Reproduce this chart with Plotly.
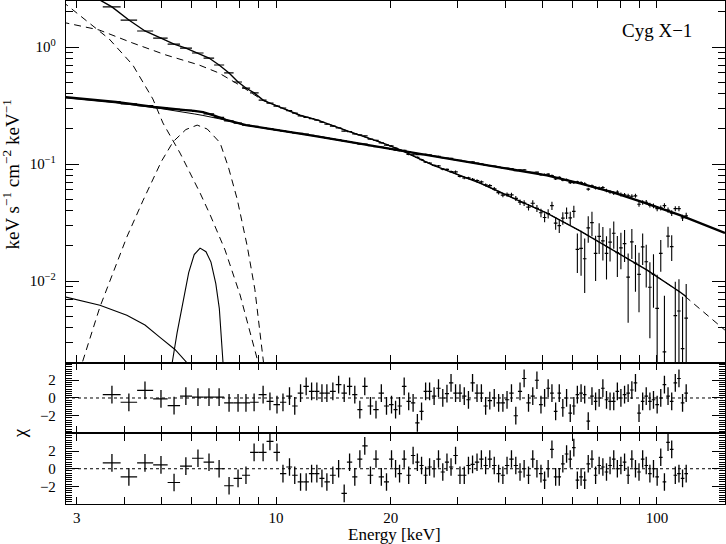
import plotly.graph_objects as go

# energy bins [keV], same binning for both observations
energy = [3.71, 4.11, 4.53, 4.99, 5.40, 5.80, 6.24, 6.67, 7.09, 7.53, 7.95, 8.34, 8.76, 9.25, 9.64, 10.06, 10.43,
          10.85, 11.2, 11.6, 12.0, 12.4, 12.8, 13.2, 13.6, 14.1, 14.6, 15.1, 15.6, 16.1, 16.6, 17.1, 17.7, 18.3, 18.9, 19.5,
          20.1, 20.6, 21.1, 21.7, 22.3, 22.9, 23.5, 24.1, 24.7, 25.3, 26.0, 26.7, 27.4, 28.1, 28.8, 29.6, 30.4, 31.2,
          32.0, 32.8, 33.7, 34.6, 35.5, 36.4, 37.4, 38.4, 39.4, 40.4, 41.5, 42.6, 43.7, 44.8, 46.0, 47.2, 48.4,
          49.6, 50.7, 51.8, 53.0, 54.2, 55.4, 56.6, 57.9, 59.2, 60.5, 61.8, 63.2, 64.6, 66.0, 67.5, 69.0, 70.5, 72.1,
          73.7, 75.3, 77.0, 78.7, 80.4, 82.2, 84.0, 85.9, 87.8, 89.7, 91.7, 93.7, 95.8, 97.9, 100.1, 102.3, 104.6,
          106.9, 109.3, 111.7, 114.2, 116.7, 119.3]

# hard state spectrum
flux_hard = [0.3421, 0.3269, 0.3157, 0.3027, 0.2932, 0.2880, 0.2811, 0.2687, 0.2507, 0.2333, 0.2234, 0.2148, 0.2098,
             0.2051, 0.2003, 0.1953, 0.1917,
             0.1887, 0.1845, 0.1825, 0.1797, 0.1760, 0.1726, 0.1697, 0.1666, 0.1636, 0.1614, 0.1577, 0.1557, 0.1520,
             0.1479, 0.1479, 0.1434, 0.1405, 0.1396, 0.1360,
             0.1336, 0.1313, 0.1300, 0.1311, 0.1269, 0.1250, 0.1205, 0.1205, 0.1212, 0.1196, 0.1170, 0.1163, 0.1132,
             0.1122, 0.1118, 0.1090, 0.1073, 0.1054, 0.1036, 0.1041, 0.1016, 0.1001, 0.0975, 0.0968, 0.0958, 0.0941,
             0.0928, 0.0921, 0.0915, 0.0879, 0.0892, 0.0892, 0.0854, 0.0848, 0.0851,
             0.0811, 0.0812, 0.0818, 0.0795, 0.0747, 0.0768, 0.0728, 0.0733, 0.0692, 0.0693, 0.0703, 0.0694, 0.0678,
             0.0609, 0.0649, 0.0625, 0.0621, 0.0630, 0.0593, 0.0577, 0.0565, 0.0576, 0.0549, 0.0544, 0.0535, 0.0530,
             0.0535, 0.0453, 0.0469, 0.0471, 0.0446, 0.0439, 0.0416, 0.0421, 0.0441, 0.0404, 0.0381, 0.0415, 0.0416,
             0.0347, 0.0361]
err_hard = [0.0017, 0.0016, 0.0016, 0.0015, 0.0015, 0.0014, 0.0014, 0.0013, 0.0013, 0.0012, 0.0011, 0.0011, 0.0011,
            0.0010, 0.0010, 0.0010, 0.0010,
            0.0011, 0.0011, 0.0011, 0.0011, 0.0011, 0.0010, 0.0010, 0.0010, 0.0010, 0.0010, 0.0009, 0.0009, 0.0009,
            0.0009, 0.0009, 0.0009, 0.0008, 0.0008, 0.0008,
            0.0013, 0.0013, 0.0013, 0.0013, 0.0013, 0.0013, 0.0012, 0.0012, 0.0012, 0.0012, 0.0012, 0.0012, 0.0011,
            0.0011, 0.0011, 0.0011, 0.0011, 0.0011, 0.0010, 0.0010, 0.0010, 0.0010, 0.0010, 0.0010, 0.0010, 0.0009,
            0.0009, 0.0009, 0.0009, 0.0009, 0.0009, 0.0009, 0.0009, 0.0008, 0.0008,
            0.0016, 0.0016, 0.0017, 0.0017, 0.0017, 0.0017, 0.0017, 0.0017, 0.0017, 0.0018, 0.0018, 0.0018, 0.0019,
            0.0019, 0.0019, 0.0020, 0.0020, 0.0020, 0.0020, 0.0020, 0.0021, 0.0021, 0.0021, 0.0021, 0.0021, 0.0021,
            0.0021, 0.0021, 0.0021, 0.0021, 0.0021, 0.0021, 0.0021, 0.0021, 0.0021, 0.0021, 0.0021, 0.0021, 0.0021,
            0.0022, 0.0022]
chi_hard = [0.37, -0.48, 0.85, -0.1, -0.85, 0.2, 0.1, 0.1, 0.1, -0.55, -0.55, -0.55, -0.48, 0.37, -0.37, -0.74, -0.48,
            0.2, -0.9, 0.55, 1.3, 0.74, 0.74, 0.55, 0.55, 0.74, 1.5, 0.55, 1.3, 0.37, -1.3, 1.3, -0.9, -1.3, 0.55, -0.9,
            -0.74, -1.3, -0.9, 1.3, -0.37, -0.55, -2.8, -1.5, 0.74, 0.74, 0.2, 1.1, 0.0, 0.5, 1.7, 0.55, 0.55, 0.2,
            -0.2, 1.7, 0.55, 0.55, -0.9, -0.3, 0.0, -0.55, -0.55, -0.2, 0.55, -2.0, 0.74, 2.2, -0.55, 0.2, 2.0,
            -0.74, 0.0, 1.1, 0.55, -1.5, 0.55, -1.1, 0.0, -1.7, -0.9, 0.37, 0.55, 0.37, -2.6, 0.2, -0.37, 0.0, 1.1,
            -0.2, -0.37, -0.37, 0.74, 0.0, 0.37, 0.55, 0.9, 1.7, -1.7, -0.37, 0.2, -0.37, -0.2, -0.74, 0.0, 1.5, 0.2,
            -0.37, 1.7, 2.2, -0.55, 0.55]

# soft state spectrum
flux_soft = [2.20, 1.70, 1.37, 1.19, 1.06, 0.980, 0.889, 0.805, 0.702, 0.600, 0.502, 0.446, 0.405, 0.352, 0.332,
             0.313, 0.301,
             0.2860, 0.2723, 0.2582, 0.2502, 0.2442, 0.2370, 0.2274, 0.2187, 0.2108, 0.2035, 0.1913, 0.1892, 0.1806,
             0.1774, 0.1739, 0.1632, 0.1595, 0.1518, 0.1452,
             0.1430, 0.1365, 0.1312, 0.1289, 0.1207, 0.1199, 0.1140, 0.1092, 0.1036, 0.1016, 0.0973, 0.0962, 0.0905,
             0.0898, 0.0860, 0.0858, 0.0785, 0.0759, 0.0760, 0.0739, 0.0721, 0.0703, 0.0662, 0.0654, 0.0614, 0.0570,
             0.0543, 0.0549, 0.0545, 0.0509, 0.0472, 0.0464, 0.0428, 0.0462, 0.0417,
             0.0383, 0.0349, 0.0376, 0.0440, 0.0312, 0.0297, 0.0345, 0.0381, 0.0346, 0.0394, 0.0186, 0.0190, 0.0155,
             0.0285, 0.0316, 0.0172, 0.0241, 0.0220, 0.0172, 0.0215, 0.0256, 0.0175, 0.0192, 0.0209, 0.0108, 0.0216,
             0.0142, 0.0114, 0.0196, 0.0146, 0.00884, 0.0114, 0.00583, 0.0172, 0.00248, 0.0242, 0.0197, 0.00505,
             0.00554, 0.00264, 0.00481]
err_soft = [0.013, 0.010, 0.008, 0.007, 0.006, 0.006, 0.005, 0.005, 0.004, 0.004, 0.003, 0.003, 0.0024, 0.0021,
            0.0020, 0.0019, 0.0018,
            0.0023, 0.0022, 0.0021, 0.0020, 0.0020, 0.0019, 0.0018, 0.0018, 0.0017, 0.0016, 0.0016, 0.0015, 0.0015,
            0.0014, 0.0014, 0.0013, 0.0013, 0.0012, 0.0012,
            0.0017, 0.0018, 0.0017, 0.0018, 0.0017, 0.0018, 0.0018, 0.0017, 0.0018, 0.0018, 0.0018, 0.0019, 0.0019,
            0.0019, 0.0020, 0.0020, 0.0020, 0.0020, 0.0020, 0.0020, 0.0021, 0.0021, 0.0021, 0.0021, 0.0022, 0.0022,
            0.0022, 0.0023, 0.0024, 0.0025, 0.0025, 0.0026, 0.0027, 0.0028, 0.0029,
            0.0032, 0.0031, 0.0034, 0.0036, 0.0038, 0.0040, 0.0042, 0.0043, 0.0045, 0.0046, 0.0069, 0.0079, 0.0076,
            0.0073, 0.0075, 0.0072, 0.0071, 0.0070, 0.0069, 0.0068, 0.0067, 0.0067, 0.0066, 0.0064, 0.0064, 0.0062,
            0.0061, 0.0060, 0.0059, 0.0058, 0.0056, 0.0055, 0.0055, 0.0052, 0.0050, 0.0049, 0.0049, 0.0048, 0.0048,
            0.0047, 0.0046]
chi_soft = [0.67, -0.93, 0.67, 0.44, -1.56, 0.3, 1.19, 0.74, 0.0, -1.93, -1.1, -0.74, 1.85, 1.85, 3.1, 1.85, -0.56,
            0.2, -0.74, -1.5, -1.5, -0.56, -0.56, -1.1, -1.5, -0.74, 0.0, -2.8, 0.74, -0.93, 1.1, 2.6, -0.74, 1.1,
            -0.93, -1.5,
            1.1, 0.0, -0.56, 1.1, -0.74, 1.5, 0.74, 0.37, -0.74, 0.2, 0.0, 1.1, -0.37, 0.74, 0.2, 1.5, -0.74, -0.74,
            0.37, 0.5, 0.74, 1.1, 0.37, 1.1, 0.37, -0.56, -0.74, 0.37, 1.1, 0.37, -0.37, 0.0, -0.74, 1.1, 0.0,
            -0.56, -1.3, 0.0, 2.2, -0.93, -0.93, 0.56, 1.67, 1.1, 2.4, -1.3, -0.93, -1.3, 0.56, 1.1, -0.74, 0.37, 0.2,
            -0.37, 0.37, 1.1, 0.0, 0.37, 0.74, -0.74, 1.1, 0.0, -0.37, 1.1, 0.37, -0.56, 0.0, -0.93, 1.3, -1.5, 3.0,
            2.2, -0.74, -0.56, -1.1, -0.56]

# model curves
e_hard_total = [2.80, 3.80, 4.79, 5.30, 5.70, 6.10, 6.43, 6.83, 7.10, 7.39, 8.34, 9.41, 11.56, 12.81, 15.65, 19.10,
                23.45, 28.62, 34.31, 41.88, 51.41, 62.78, 76.67, 94.2, 114.9, 150.7]
f_hard_total = [0.374, 0.339, 0.307, 0.295, 0.290, 0.285, 0.278, 0.262, 0.249, 0.238, 0.215, 0.203, 0.182, 0.172,
                0.154, 0.138, 0.124, 0.110, 0.0996, 0.0897, 0.0800, 0.0684, 0.0573, 0.0459, 0.0366, 0.0257]
e_hard_pl = [2.80, 3.80, 4.79, 5.30, 5.70, 6.10, 6.43, 6.83, 7.39, 8.34, 9.41, 11.56, 12.81, 15.65, 19.10, 23.45,
             28.62, 34.31, 41.88, 51.41, 62.78, 76.67, 94.2, 114.9, 150.7]
f_hard_pl = [0.367, 0.333, 0.304, 0.290, 0.280, 0.268, 0.260, 0.251, 0.237, 0.214, 0.202, 0.182, 0.172, 0.154, 0.138,
             0.124, 0.110, 0.0996, 0.0897, 0.0800, 0.0684, 0.0573, 0.0459, 0.0366, 0.0257]
e_hard_disk = [2.75, 3.45, 4.06, 4.53, 4.96, 5.43, 5.84, 6.20]
f_hard_disk = [0.0074, 0.0062, 0.0051, 0.0042, 0.0033, 0.0026, 0.0020, 0.0015]
e_hard_line = [5.25, 5.34, 5.50, 5.70, 5.90, 6.10, 6.32, 6.55, 6.75, 6.95, 7.10, 7.26, 7.35]
f_hard_line = [0.0012, 0.0020, 0.0036, 0.0068, 0.0118, 0.0168, 0.0191, 0.0178, 0.0145, 0.0095, 0.0058, 0.0020, 0.0012]

e_soft_total = [3.45, 3.71, 4.11, 4.53, 4.99, 5.40, 5.80, 6.24, 6.67, 7.09, 7.53, 7.95, 8.34, 8.76, 9.25, 9.64, 10.06,
                10.43, 11.56, 12.81, 15.65, 19.10, 21.2, 25.8, 31.7, 34.3, 41.9, 51.4, 62.8, 76.7, 94.2, 114.9, 119.3]
f_soft_total = [2.52, 2.20, 1.70, 1.37, 1.19, 1.06, 0.980, 0.889, 0.805, 0.702, 0.600, 0.502, 0.446, 0.405, 0.352,
                0.332, 0.313, 0.301, 0.261, 0.238, 0.188, 0.151, 0.132, 0.098, 0.0759, 0.0688, 0.0512, 0.0381,
                0.0268, 0.0184, 0.0124, 0.00805, 0.00736]
e_soft_pl = [2.75, 3.43, 4.21, 5.14, 6.28, 7.08, 8.00, 8.71, 9.25, 10.43, 11.56, 12.81, 15.65, 19.10, 21.2, 25.8,
             31.7, 34.3, 41.9, 51.4, 62.8, 76.7, 94.2, 114.9, 150.7]
f_soft_pl = [1.63, 1.40, 1.08, 0.855, 0.702, 0.600, 0.475, 0.395, 0.349, 0.300, 0.261, 0.238, 0.188, 0.151, 0.132,
             0.098, 0.0759, 0.0688, 0.0512, 0.0381, 0.0268, 0.0184, 0.0124, 0.00805, 0.00381]
e_soft_disk = [2.75, 3.65, 4.21, 4.75, 5.05, 5.60, 6.32, 6.72, 7.35, 8.05, 8.97, 9.10]
f_soft_disk = [2.45, 1.17, 0.70, 0.36, 0.224, 0.124, 0.0565, 0.0366, 0.0184, 0.00759, 0.00203, 0.0017]
e_soft_line = [3.00, 3.10, 3.45, 4.06, 4.48, 5.00, 5.37, 5.80, 6.21, 6.60, 7.13, 7.50, 7.91, 8.40, 8.80, 9.25, 9.35]
f_soft_line = [0.0013, 0.0020, 0.0060, 0.0238, 0.049, 0.105, 0.155, 0.197, 0.215, 0.199, 0.152, 0.094, 0.050, 0.020,
               0.0085, 0.0021, 0.0016]

# bin edges from the bin centres
edges = [energy[0] - (energy[1] - energy[0]) / 2]
edges += [(a + b) / 2 for a, b in zip(energy[:-1], energy[1:])]
edges.append(energy[-1] + (energy[-1] - energy[-2]) / 2)
bin_lo = [e - lo for e, lo in zip(energy, edges[:-1])]
bin_hi = [hi - e for e, hi in zip(energy, edges[1:])]

SERIF = "Liberation Serif, Times New Roman, serif"


def model_line(x, y, width=1, dash="solid", ya="y"):
    return go.Scatter(x=x, y=y, mode="lines", xaxis="x" if ya == "y" else "x" + ya[1:], yaxis=ya,
                      line=dict(color="black", width=width, dash=dash), showlegend=False, hoverinfo="skip")


def data_points(y, err, ya):
    if err is None:
        ey = dict(type="constant", value=1, width=0, thickness=1.3, color="black")
    else:
        ey = dict(type="data", array=err, width=0, thickness=1.1, color="black")
    return go.Scatter(x=energy, y=y, mode="markers", xaxis="x" if ya == "y" else "x" + ya[1:], yaxis=ya,
                      marker=dict(size=1, color="black", opacity=0),
                      error_x=dict(type="data", array=bin_hi, arrayminus=bin_lo, symmetric=False,
                                   width=0, thickness=1.2, color="black"),
                      error_y=ey, showlegend=False, hoverinfo="skip")


fig = go.Figure()
dash = "7px,5px"
fig.add_trace(model_line(e_soft_disk, f_soft_disk, 1, dash))
fig.add_trace(model_line(e_soft_line, f_soft_line, 1, dash))
fig.add_trace(model_line(e_soft_pl, f_soft_pl, 1, dash))
fig.add_trace(model_line(e_hard_disk, f_hard_disk, 1.1))
fig.add_trace(model_line(e_hard_line, f_hard_line, 1.1))
fig.add_trace(model_line(e_hard_pl, f_hard_pl, 1))
fig.add_trace(model_line(e_soft_total, f_soft_total, 1.4))
fig.add_trace(model_line(e_hard_total, f_hard_total, 2.3))
fig.add_trace(data_points(flux_soft, err_soft, "y"))
fig.add_trace(data_points(flux_hard, err_hard, "y"))
fig.add_trace(data_points(chi_hard, None, "y2"))
fig.add_trace(data_points(chi_soft, None, "y3"))

xrange = [0.4488, 2.1785]
tick_style = dict(ticks="inside", tickwidth=1, tickcolor="black", linecolor="black",
                  linewidth=1.3, mirror="ticks", showgrid=False, zeroline=False)
minor_x = dict(tickvals=[4, 5, 6, 7, 8, 9, 30, 40, 50, 60, 70, 80, 90], ticks="inside", ticklen=7,
               tickwidth=1, tickcolor="black")


def x_axis(anchor, labels):
    return dict(type="log", range=xrange, anchor=anchor, domain=[0, 1], tickvals=[3, 10, 20, 100],
                ticktext=["3", "10", "20", "100"], ticklen=7, showticklabels=labels, minor=minor_x,
                showline=True, tickfont=dict(family=SERIF, size=15, color="black"), **tick_style)


# longer ticks at the decades
def x_long(over, anchor):
    return dict(type="log", range=xrange, overlaying=over, anchor=anchor, tickvals=[10, 100], ticklen=14,
                showticklabels=False, showline=False, **tick_style)


def y_resid(domain, anchor):
    return dict(range=[-4, 4], domain=domain, anchor=anchor, tickvals=[-2, 0, 2], ticktext=["\u22122", "0", "2"],
                ticklen=13, minor=dict(dtick=0.25, tick0=0, ticks="inside", ticklen=6, tickwidth=1,
                                       tickcolor="black"),
                showline=True, tickfont=dict(family=SERIF, size=15, color="black"), ticklabelstandoff=6,
                **tick_style)


split_top = 0.2813
split_mid = 0.1402

fig.update_layout(
    width=726, height=544,
    margin=dict(l=66, r=1, t=1, b=40),
    paper_bgcolor="white", plot_bgcolor="white",
    font=dict(family=SERIF, size=15, color="black"),
    showlegend=False,
    xaxis=x_axis("y", False),
    xaxis2=x_axis("y2", False),
    xaxis3=x_axis("y3", True),
    xaxis4=x_long("x", "y"),
    xaxis5=x_long("x2", "y2"),
    xaxis6=x_long("x3", "y3"),
    yaxis=dict(type="log", range=[-2.6966, 0.3932], domain=[split_top, 1], anchor="x",
               tickvals=[0.01, 0.1, 1], ticktext=["10<sup>\u22122</sup>", "10<sup>\u22121</sup>", "10<sup>0</sup>"],
               ticklen=13, ticklabelstandoff=6, showline=True,
               minor=dict(tickvals=[0.002, 0.003, 0.004, 0.005, 0.006, 0.007, 0.008, 0.009,
                                    0.02, 0.03, 0.04, 0.05, 0.06, 0.07, 0.08, 0.09,
                                    0.2, 0.3, 0.4, 0.5, 0.6, 0.7, 0.8, 0.9, 2],
                          ticks="inside", ticklen=7, tickwidth=1, tickcolor="black"),
               tickfont=dict(family=SERIF, size=15, color="black"), **tick_style),
    yaxis2=y_resid([split_mid, split_top], "x2"),
    yaxis3=y_resid([0, split_mid], "x3"),
)

# dotted zero lines in the residual panels
for ya in ["y2", "y3"]:
    fig.add_shape(type="line", xref="x domain", yref=ya, x0=0, x1=1, y0=0, y1=0,
                  line=dict(color="black", width=1, dash="dot"))

label_font = dict(family=SERIF, size=19, color="black")
fig.add_annotation(text="Cyg X\u22121", xref="paper", yref="paper", x=0.897, y=0.942,
                   xanchor="center", yanchor="middle", showarrow=False, font=label_font)
fig.add_annotation(text="keV s<sup>\u22121</sup> cm<sup>\u22122</sup> keV<sup>\u22121</sup>", xref="paper",
                   yref="paper", x=-0.0835, y=0.655, xanchor="center", yanchor="middle", textangle=-90,
                   showarrow=False, font=label_font)
fig.add_annotation(text="\u03c7", xref="paper", yref="paper", x=-0.07, y=split_mid, xanchor="center",
                   yanchor="middle", textangle=-90, showarrow=False, font=label_font)
fig.add_annotation(text="Energy [keV]", xref="paper", yref="paper", x=0.498, y=-0.0616, xanchor="center",
                   yanchor="middle", showarrow=False, font=dict(family=SERIF, size=17, color="black"))

# the page's default body margin would shift the figure by 8px
fig.write_html("out.html", config={"displayModeBar": False},
               post_script="document.body.style.margin='0';")
